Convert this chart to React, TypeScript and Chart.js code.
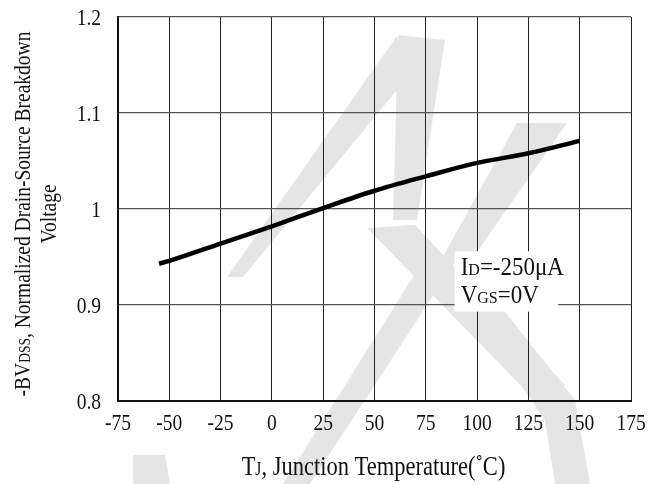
import { useEffect, useRef } from "react";
import { Chart, registerables } from "chart.js";

Chart.register(...registerables);

// Data
const temperatures = [-55, -50, -25, 0, 25, 50, 75, 100, 125, 150];
const normalizedBV = [0.943, 0.946, 0.964, 0.982, 1.001, 1.019, 1.034, 1.048, 1.058, 1.071];
const xTickValues = [-75, -50, -25, 0, 25, 50, 75, 100, 125, 150, 175];
const yTickValues = [0.8, 0.9, 1.0, 1.1, 1.2];
const yTickLabels = ["0.8", "0.9", "1", "1.1", "1.2"];

// Decorative watermark polygons (canvas pixels)
const watermark: number[][][] = [
  [[398, 35], [445, 40], [417, 220], [393, 220]],
  [[397, 36], [405, 80], [243, 277], [227, 277]],
  [[517, 123], [567, 123], [470, 262], [440, 262]],
  [[440, 268], [470, 268], [575, 400], [590, 484], [555, 484], [545, 420]],
  [[367, 228], [415, 225], [565, 385], [540, 405]],
  [[430, 250], [455, 262], [310, 484], [283, 484]],
  [[133, 455], [165, 455], [170, 484], [133, 484]],
];

const FONT = "'Liberation Serif', 'Times New Roman', serif";
const TEXT = "#111111";

type Run = { text: string; size: number };

function runsWidth(ctx: CanvasRenderingContext2D, runs: Run[]) {
  let w = 0;
  for (const r of runs) {
    ctx.font = `${r.size}px ${FONT}`;
    w += ctx.measureText(r.text).width;
  }
  return w;
}

// draws text runs left-aligned on an alphabetic baseline, stretched vertically by sy
function drawRuns(ctx: CanvasRenderingContext2D, runs: Run[], x: number, y: number, sy: number) {
  ctx.save();
  ctx.translate(x, y);
  ctx.scale(1, sy);
  ctx.textBaseline = "alphabetic";
  ctx.textAlign = "left";
  let cx = 0;
  for (const r of runs) {
    ctx.font = `${r.size}px ${FONT}`;
    ctx.fillText(r.text, cx, 0);
    cx += ctx.measureText(r.text).width;
  }
  ctx.restore();
}

const TICK_SIZE = 19.5;
const TICK_SY = 1.22;

const decorPlugin = {
  id: "decor",
  beforeDraw(chart: any) {
    const ctx = chart.ctx as CanvasRenderingContext2D;
    ctx.save();
    ctx.fillStyle = "#ffffff";
    ctx.fillRect(0, 0, chart.width, chart.height);
    ctx.fillStyle = "#e5e5e5";
    for (const poly of watermark) {
      ctx.beginPath();
      poly.forEach(([px, py], i) => (i === 0 ? ctx.moveTo(px, py) : ctx.lineTo(px, py)));
      ctx.closePath();
      ctx.fill();
    }
    ctx.restore();
  },
  beforeDatasetsDraw(chart: any) {
    const ctx = chart.ctx as CanvasRenderingContext2D;
    const xs = chart.scales.x;
    const ys = chart.scales.y;
    const x0 = xs.getPixelForValue(89);
    const x1 = xs.getPixelForValue(139.5);
    const y0 = ys.getPixelForValue(0.956);
    const y1 = ys.getPixelForValue(0.893);
    ctx.save();
    ctx.fillStyle = "#ffffff";
    ctx.fillRect(x0, y0, x1 - x0, y1 - y0);
    ctx.fillStyle = TEXT;
    const tx = xs.getPixelForValue(92);
    drawRuns(ctx, [{ text: "I", size: 23 }, { text: "D", size: 16 }, { text: "=-250μA", size: 23 }], tx, ys.getPixelForValue(0.931), 1.1);
    drawRuns(ctx, [{ text: "V", size: 23 }, { text: "GS", size: 16 }, { text: "=0V", size: 23 }], tx, ys.getPixelForValue(0.9025), 1.1);
    ctx.restore();
  },
  afterDraw(chart: any) {
    const ctx = chart.ctx as CanvasRenderingContext2D;
    const area = chart.chartArea;
    const xs = chart.scales.x;
    const ys = chart.scales.y;
    ctx.save();
    ctx.fillStyle = TEXT;
    ctx.font = `${TICK_SIZE}px ${FONT}`;
    const half = 0.338 * TICK_SIZE * TICK_SY;
    // y tick labels
    yTickValues.forEach((v, i) => {
      const label = yTickLabels[i];
      const w = runsWidth(ctx, [{ text: label, size: TICK_SIZE }]);
      drawRuns(ctx, [{ text: label, size: TICK_SIZE }], area.left - 17 - w, ys.getPixelForValue(v) + half, TICK_SY);
    });
    // x tick labels
    xTickValues.forEach((v) => {
      const label = String(v);
      const w = runsWidth(ctx, [{ text: label, size: TICK_SIZE }]);
      drawRuns(ctx, [{ text: label, size: TICK_SIZE }], xs.getPixelForValue(v) - w / 2, 422 + half, TICK_SY);
    });
    // x title
    const xRuns: Run[] = [
      { text: "T", size: 22.5 },
      { text: "J", size: 15.5 },
      { text: ", Junction Temperature(˚C)", size: 22.5 },
    ];
    const xw = runsWidth(ctx, xRuns);
    const xc = (area.left + area.right) / 2 - 1;
    drawRuns(ctx, xRuns, xc - xw / 2, 475, 1.22);
    // y title (rotated)
    const yc = (area.top + area.bottom) / 2 + 5;
    const line1: Run[] = [
      { text: "-BV", size: 19.5 },
      { text: "DSS", size: 13.5 },
      { text: ", Normalized Drain-Source Breakdown", size: 19.5 },
    ];
    const line2: Run[] = [{ text: "Voltage", size: 19.5 }];
    ctx.translate(0, yc);
    ctx.rotate(-Math.PI / 2);
    const w1 = runsWidth(ctx, line1);
    drawRuns(ctx, line1, -w1 / 2, 30, 1.2);
    const w2 = runsWidth(ctx, line2);
    drawRuns(ctx, line2, -w2 / 2, 56, 1.2);
    ctx.restore();
  },
};

export default function App() {
  const ref = useRef<HTMLCanvasElement | null>(null);
  useEffect(() => {
    document.body.style.margin = "0";
    const canvas = ref.current;
    if (!canvas) return;
    const chart = new Chart(canvas, {
      type: "line",
      data: {
        datasets: [
          {
            data: temperatures.map((t, i) => ({ x: t, y: normalizedBV[i] })),
            borderColor: "#000000",
            borderWidth: 4.5,
            pointRadius: 0,
            cubicInterpolationMode: "monotone",
            fill: false,
          },
        ],
      },
      options: {
        responsive: false,
        animation: false,
        events: [],
        layout: { padding: { top: 17, right: 31, left: 0, bottom: 0 } },
        plugins: { legend: { display: false }, tooltip: { enabled: false } },
        scales: {
          x: {
            type: "linear",
            min: -75,
            max: 175,
            afterBuildTicks: (s: any) => {
              s.ticks = xTickValues.map((v) => ({ value: v }));
            },
            afterFit: (s: any) => {
              s.height = 83;
            },
            grid: { color: "#222222", lineWidth: 1, drawTicks: false },
            border: { color: "#111111", width: 2 },
            ticks: { display: false },
          },
          y: {
            type: "linear",
            min: 0.8,
            max: 1.2,
            afterBuildTicks: (s: any) => {
              s.ticks = yTickValues.map((v) => ({ value: v }));
            },
            afterFit: (s: any) => {
              s.width = 118;
            },
            grid: { color: "#555555", lineWidth: 1.2, drawTicks: false },
            border: { color: "#111111", width: 2 },
            ticks: { display: false },
          },
        },
      },
      plugins: [decorPlugin],
    });
    return () => chart.destroy();
  }, []);
  return <canvas ref={ref} width={662} height={484} style={{ display: "block" }} />;
}
